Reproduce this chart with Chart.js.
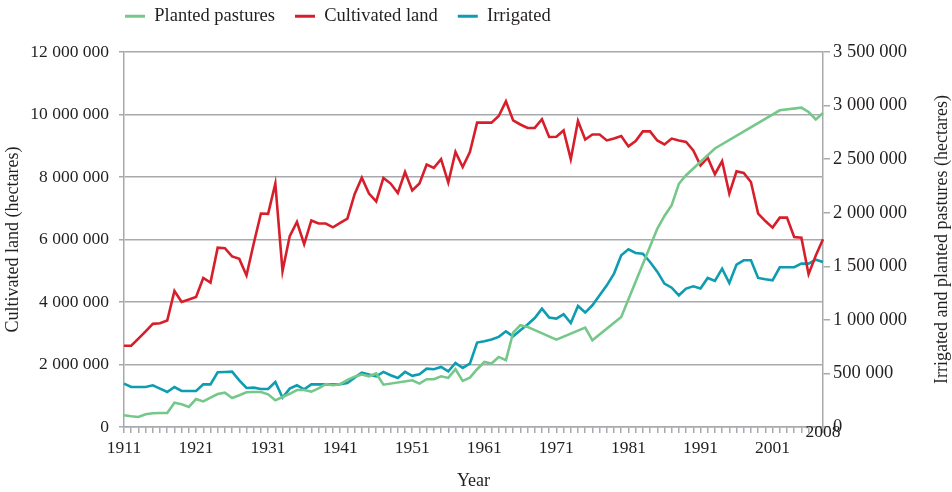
<!DOCTYPE html>
<html lang="en">
<head>
<meta charset="UTF-8">
<title>Cultivated land, irrigated land and planted pastures</title>
<style>
  html, body { margin: 0; padding: 0; background: #fff; }
</style>
</head>
<body>
<canvas id="landChart" width="952" height="492"></canvas>
<script src="https://cdn.jsdelivr.net/npm/chart.js"></script>
<script>
// years on the x axis, one category per year
const years = [];
for (let y = 1911; y <= 2008; y++) years.push(y);
const xTickLabels = [1911, 1921, 1931, 1941, 1951, 1961, 1971, 1981, 1991, 2001];
const lastYear = 2008;

// Cultivated land (hectares, left axis)
const cultivated = [
  2600000, 2600000, 2830000, 3060000, 3300000, 3320000, 3410000, 4350000, 4000000, 4080000,
  4160000, 4770000, 4620000, 5740000, 5720000, 5460000, 5380000, 4850000, 5870000, 6830000,
  6820000, 7790000, 4990000, 6110000, 6560000, 5850000, 6610000, 6510000, 6510000, 6390000,
  6530000, 6670000, 7450000, 7980000, 7470000, 7220000, 7970000, 7790000, 7490000, 8160000,
  7570000, 7790000, 8400000, 8290000, 8570000, 7820000, 8800000, 8320000, 8800000, 9740000,
  9740000, 9740000, 9950000, 10420000, 9810000, 9680000, 9570000, 9570000, 9850000, 9280000,
  9290000, 9490000, 8570000, 9790000, 9200000, 9360000, 9360000, 9170000, 9230000, 9310000,
  8980000, 9150000, 9460000, 9460000, 9170000, 9040000, 9230000, 9170000, 9120000, 8850000,
  8370000, 8620000, 8090000, 8510000, 7470000, 8180000, 8130000, 7840000, 6830000, 6590000,
  6380000, 6700000, 6700000, 6080000, 6060000, 4890000, 5490000, 6010000
];

// Irrigated (hectares, right axis)
const irrigated = [
  405000, 373000, 373000, 373000, 389000, 358000, 327000, 373000, 336000, 336000,
  336000, 398000, 398000, 511000, 514000, 517000, 436000, 364000, 367000, 355000,
  355000, 420000, 274000, 358000, 389000, 352000, 398000, 398000, 398000, 398000,
  400000, 411000, 461000, 508000, 489000, 473000, 514000, 483000, 458000, 514000,
  477000, 492000, 545000, 539000, 561000, 520000, 598000, 551000, 592000, 788000,
  800000, 816000, 841000, 893000, 847000, 903000, 956000, 1017000, 1105000, 1021000,
  1012000, 1052000, 971000, 1129000, 1068000, 1136000, 1229000, 1322000, 1432000, 1603000,
  1659000, 1624000, 1618000, 1540000, 1450000, 1338000, 1300000, 1229000, 1292000, 1313000,
  1292000, 1391000, 1363000, 1478000, 1344000, 1516000, 1556000, 1556000, 1391000, 1379000,
  1369000, 1491000, 1491000, 1491000, 1525000, 1525000, 1562000, 1541000
];

// Planted pastures (hectares, right axis) - gaps where only a straight line is drawn
const pastures = [
  109000, 100000, 94000, 119000, 128000, 131000, 131000, 227000, 212000, 187000,
  261000, 239000, 274000, 308000, 320000, 271000, 296000, 324000, 327000, 327000,
  305000, 249000, 280000, 310000, 345000, 345000, 330000, 360000, 400000, 390000,
  400000, 440000, 470000, 490000, 473000, 500000, 395000, null, null, null,
  436000, 405000, 446000, 446000, 473000, 458000, 539000, 430000, 461000, 539000,
  607000, 592000, 654000, 623000, 881000, 950000, 934000, null, null, null,
  815000, null, null, null, 928000, 809000, null, null, null, 1027000,
  null, null, null, null, 1850000, 1970000, 2070000, 2270000, 2350000, null,
  null, null, 2600000, null, null, null, null, null, null, null,
  null, 2956000, null, null, 2980000, 2940000, 2870000, 2930000
];

const textColor = '#231f20';
const gridColor = '#a7a9ac';
const fontFamily = "'Liberation Serif', 'Times New Roman', serif";
const rightTitle = 'Irrigated and planted pastures (hectares)';

Chart.defaults.font.family = fontFamily;
Chart.defaults.font.size = 17.5;
Chart.defaults.color = textColor;

function spaced(v) {
  return String(v).replace(/\B(?=(\d{3})+(?!\d))/g, ' ');
}

// legend: keep 52px above the plot, and pull the items up/left so the
// wide item spacing doesn't also push the first item away from the axis
const legendPlace = {
  id: 'legendPlace',
  beforeInit(chart) {
    const legend = chart.legend;
    const fit = legend.fit;
    const draw = legend.draw;
    legend.fit = function () {
      fit.call(this);
      this.height = 52;
    };
    legend.draw = function () {
      const left = this.left, top = this.top;
      this.left = left - 19;
      this.top = top - 13;
      draw.call(this);
      this.left = left;
      this.top = top;
    };
  }
};

// "2008" sits on the axis line and the right title reads bottom to top
const extraText = {
  id: 'extraText',
  afterDraw(chart) {
    const { ctx, chartArea, scales } = chart;
    ctx.save();
    ctx.fillStyle = textColor;
    ctx.font = '17.5px ' + fontFamily;
    ctx.textAlign = 'center';
    ctx.textBaseline = 'middle';
    ctx.fillText(String(lastYear), scales.x.getPixelForValue(years.indexOf(lastYear)), chartArea.bottom + 5);
    ctx.font = '18px ' + fontFamily;
    ctx.translate(chart.width - 10, (chartArea.top + chartArea.bottom) / 2);
    ctx.rotate(-Math.PI / 2);
    ctx.fillText(rightTitle, 0, 0);
    ctx.restore();
  }
};

const ctx = document.getElementById('landChart').getContext('2d');
new Chart(ctx, {
  type: 'line',
  data: {
    labels: years,
    datasets: [
      {
        label: 'Planted pastures',
        data: pastures,
        yAxisID: 'y1',
        borderColor: '#76c78a',
        backgroundColor: '#76c78a',
        spanGaps: true
      },
      {
        label: 'Cultivated land',
        data: cultivated,
        yAxisID: 'y',
        borderColor: '#d71f2b',
        backgroundColor: '#d71f2b'
      },
      {
        label: 'Irrigated',
        data: irrigated,
        yAxisID: 'y1',
        borderColor: '#0e9db0',
        backgroundColor: '#0e9db0'
      }
    ]
  },
  options: {
    responsive: false,
    animation: false,
    layout: { padding: 0 },
    elements: {
      point: { radius: 0 },
      line: { borderWidth: 2.6, tension: 0 }
    },
    plugins: {
      tooltip: { enabled: false },
      legend: {
        position: 'top',
        align: 'start',
        fullSize: false,
        labels: {
          boxWidth: 20,
          boxHeight: 3,
          padding: 20,
          font: { size: 18.5 },
          generateLabels(chart) {
            return Chart.defaults.plugins.legend.labels.generateLabels(chart)
              .map(item => Object.assign(item, { lineWidth: 0 }));
          }
        }
      }
    },
    scales: {
      x: {
        grid: {
          drawOnChartArea: false,
          drawTicks: true,
          tickLength: 6,
          color: gridColor,
          lineWidth: 1.5
        },
        border: { color: gridColor, width: 1.5 },
        ticks: {
          autoSkip: false,
          maxRotation: 0,
          padding: 5,
          callback(value, index) {
            return xTickLabels.includes(years[index]) ? String(years[index]) : '';
          }
        },
        title: {
          display: true,
          text: 'Year',
          font: { size: 18 },
          padding: { top: 0, bottom: 0 }
        },
        afterFit(scale) { scale.height = 65; }
      },
      y: {
        position: 'left',
        min: 0,
        max: 12000000,
        grid: {
          color: gridColor,
          lineWidth: 1.5,
          tickLength: 5
        },
        border: { color: gridColor, width: 1.5 },
        ticks: {
          stepSize: 2000000,
          padding: 10,
          callback: v => spaced(v)
        },
        title: {
          display: true,
          text: 'Cultivated land (hectares)',
          font: { size: 18 },
          padding: { top: 2, bottom: 0 }
        },
        afterFit(scale) { scale.width = 124; }
      },
      y1: {
        position: 'right',
        min: 0,
        max: 3500000,
        grid: {
          drawOnChartArea: false,
          color: gridColor,
          lineWidth: 1.5,
          tickLength: 7
        },
        border: { color: gridColor, width: 1.5 },
        ticks: {
          stepSize: 500000,
          padding: 3,
          font: { size: 18.5 },
          callback: v => spaced(v)
        },
        afterFit(scale) { scale.width = 129; }
      }
    }
  },
  plugins: [legendPlace, extraText]
});
</script>
</body>
</html>
